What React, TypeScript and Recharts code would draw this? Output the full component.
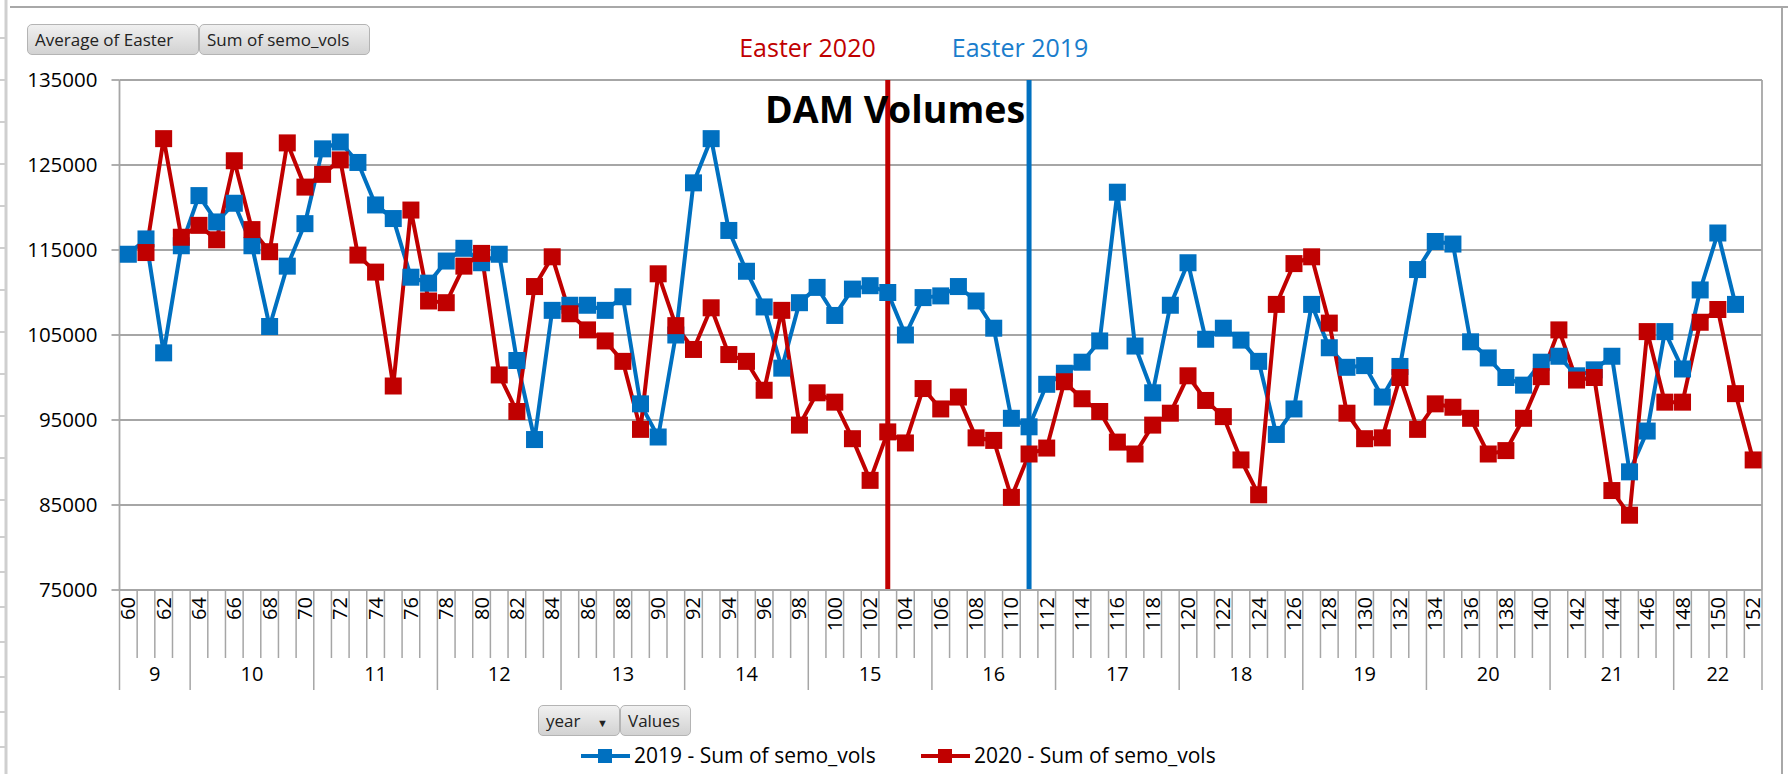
import React from 'react';
import { ComposedChart, Line, XAxis, YAxis, CartesianGrid, ReferenceLine } from 'recharts';

const days = [
  60, 61, 62, 63, 64, 65, 66, 67, 68, 69, 70, 71, 72, 73, 74, 75, 76, 77, 78, 79,
  80, 81, 82, 83, 84, 85, 86, 87, 88, 89, 90, 91, 92, 93, 94, 95, 96, 97, 98, 99,
  100, 101, 102, 103, 104, 105, 106, 107, 108, 109, 110, 111, 112, 113, 114, 115, 116, 117, 118, 119,
  120, 121, 122, 123, 124, 125, 126, 127, 128, 129, 130, 131, 132, 133, 134, 135, 136, 137, 138, 139,
  140, 141, 142, 143, 144, 145, 146, 147, 148, 149, 150, 151, 152,
];

const weekNums = [9, 10, 11, 12, 13, 14, 15, 16, 17, 18, 19, 20, 21, 22];
const weekFirstDay = [60, 64, 71, 78, 85, 92, 99, 106, 113, 120, 127, 134, 141, 148];

const vols2019 = [
  114500, 116300, 102900, 115500, 121400, 118300, 120500, 115500, 106000, 113100,
  118100, 126900, 127700, 125300, 120300, 118700, 111800, 111100, 113700, 115200,
  113500, 114500, 102000, 92700, 107900, 108500, 108500, 107900, 109500, 96900,
  93000, 105000, 122900, 128100, 117300, 112500, 108300, 101100, 108800, 110600,
  107300, 110400, 110800, 110000, 105000, 109400, 109600, 110700, 109000, 105800,
  95200, 94200, 99200, 100500, 101800, 104300, 121800, 103700, 98200, 108500,
  113500, 104500, 105800, 104400, 101900, 93300, 96300, 108600, 103500, 101200,
  101400, 97700, 101300, 112700, 116000, 115700, 104200, 102300, 100000, 99100,
  101800, 102500, 100200, 100900, 102500, 88900, 93700, 105400, 101000, 110300,
  117000, 108600, null,
];

const vols2020 = [
  null, 114700, 128100, 116500, 117900, 116200, 125500, 117400, 114800, 127600,
  122400, 123900, 125600, 114400, 112400, 99000, 119700, 109000, 108800, 113100,
  114600, 100300, 96000, 110700, 114200, 107500, 105600, 104300, 101900, 93900,
  112200, 106100, 103300, 108200, 102700, 101900, 98500, 107900, 94400, 98200,
  97100, 92800, 87900, 93600, 92300, 98700, 96300, 97700, 92900, 92600,
  85900, 91000, 91700, 99500, 97500, 96000, 92400, 91000, 94400, 95800,
  100200, 97300, 95400, 90300, 86200, 108600, 113400, 114200, 106400, 95800,
  92800, 92900, 100000, 93900, 96900, 96500, 95200, 91000, 91400, 95200,
  100100, 105600, 99700, 100000, 86700, 83800, 105400, 97100, 97100, 106500,
  108000, 98100, 90300,
];

const yTicks = [75000, 85000, 95000, 105000, 115000, 125000, 135000];
const rightTicks = [0, 0.1, 0.2, 0.3, 0.4, 0.5, 0.6, 0.7, 0.8, 0.9, 1];
const easter2020Day = 103;
const easter2019Day = 111;

const data = days.map((d, i) => ({ day: d, v2019: vols2019[i], v2020: vols2020[i] }));

const BLUE = '#0070C0';
const RED = '#C00000';
const GRID = '#a6a6a6';
const FONT = '"Open Sans", "Noto Sans", sans-serif';

const W = 1788;
const H = 774;
const LEFT_W = 119.5;
const RIGHT_W = 26;
const SLOT = (W - LEFT_W - RIGHT_W) / days.length;

const squareDot = (color: string) => (p: any) => {
  const { cx, cy, index } = p;
  if (cx == null || cy == null || p.value == null) return <g key={`e${index}`} />;
  return <rect key={`d${index}`} x={cx - 8.5} y={cy - 8.5} width={17} height={17} fill={color} />;
};

// two-level category axis: day numbers (every other one) and week groups
const DayTick = (props: any) => {
  const { x, y, payload } = props;
  const i = payload.index;
  const half = payload.offset > 0 ? payload.offset : SLOT / 2;
  const day = days[i];
  const wk = weekFirstDay.indexOf(day);
  const last = i === days.length - 1;
  let weekLabel = null;
  if (wk >= 0) {
    const next = wk + 1 < weekFirstDay.length ? weekFirstDay[wk + 1] : days[days.length - 1] + 1;
    const len = next - day;
    weekLabel = (
      <text x={x - half + len * half} y={y + 91} textAnchor="middle" fontSize={20} fontFamily={FONT} fill="#000">
        {weekNums[wk]}
      </text>
    );
  }
  return (
    <g>
      <line x1={x - half} x2={x - half} y1={y} y2={y + (wk >= 0 ? 100 : 68)} stroke={GRID} strokeWidth={1.5} />
      {last && <line x1={x + half} x2={x + half} y1={y} y2={y + 100} stroke={GRID} strokeWidth={1.5} />}
      {i % 2 === 0 && (
        <text
          transform={`translate(${x},${y + 7}) rotate(-90)`}
          textAnchor="end"
          dy="0.35em"
          fontSize={20}
          fontFamily={FONT}
          fill="#000"
        >
          {day}
        </text>
      )}
      {weekLabel}
    </g>
  );
};

const easterLabel = (text: string, color: string, dx: number, anchor: string) => (p: any) => {
  const vb = p.viewBox || {};
  return (
    <text x={vb.x + dx} y={57} textAnchor={anchor} fontSize={25} fontFamily={FONT} fill={color}>
      {text}
    </text>
  );
};

const btn: React.CSSProperties = {
  position: 'absolute',
  height: 31,
  boxSizing: 'border-box',
  border: '1px solid #b4b4b4',
  borderRadius: 5,
  background: 'linear-gradient(#f0f0f0, #d2d2d2)',
  fontFamily: FONT,
  fontSize: 17,
  color: '#222',
  lineHeight: '29px',
  paddingLeft: 7,
  whiteSpace: 'nowrap',
};

const rulerMarks = [38, 80, 122, 164, 206, 248, 290, 332, 374, 416, 458, 500, 537, 572, 607, 642, 677, 712, 747];

export default function App() {
  return (
    <div style={{ position: 'fixed', left: 0, top: 0, width: W, height: H, background: '#fff', overflow: 'hidden' }}>
      <ComposedChart width={W} height={H} data={data} margin={{ top: 80, right: 0, bottom: 0, left: 0 }}>
        <CartesianGrid vertical={false} stroke={GRID} strokeWidth={1.8} />
        <XAxis
          dataKey="day"
          scale="band"
          interval={0}
          height={184}
          tickSize={0}
          tickMargin={0}
          tickLine={false}
          axisLine={{ stroke: GRID, strokeWidth: 1.8 }}
          tick={DayTick}
        />
        <YAxis
          domain={[75000, 135000]}
          ticks={yTicks}
          interval={0}
          width={LEFT_W}
          tickSize={8}
          tickMargin={14}
          axisLine={{ stroke: GRID, strokeWidth: 1.8 }}
          tickLine={{ stroke: GRID, strokeWidth: 1.8 }}
          tick={{ fill: '#000', fontSize: 20.5, fontFamily: FONT }}
        />
        <YAxis
          yAxisId="right"
          orientation="right"
          domain={[0, 1]}
          ticks={rightTicks}
          interval={0}
          width={RIGHT_W}
          tick={false}
          tickSize={9}
          axisLine={{ stroke: GRID, strokeWidth: 1.8 }}
          tickLine={{ stroke: GRID, strokeWidth: 1.8 }}
        />
        <Line
          type="linear"
          dataKey="v2019"
          stroke={BLUE}
          strokeWidth={4}
          dot={squareDot(BLUE)}
          activeDot={false}
          isAnimationActive={false}
        />
        <Line
          type="linear"
          dataKey="v2020"
          stroke={RED}
          strokeWidth={4}
          dot={squareDot(RED)}
          activeDot={false}
          isAnimationActive={false}
        />
        <ReferenceLine
          x={easter2020Day}
          stroke={RED}
          strokeWidth={5}
          label={easterLabel('Easter 2020', RED, -12, 'end')}
        />
        <ReferenceLine
          x={easter2019Day}
          stroke={BLUE}
          strokeWidth={5}
          label={easterLabel('Easter 2019', '#1a7dcc', -9, 'middle')}
        />
      </ComposedChart>

      <svg width={W} height={H} style={{ position: 'absolute', left: 0, top: 0, pointerEvents: 'none' }}>
        <line x1={10} x2={W} y1={7} y2={7} stroke="#a8a8a8" strokeWidth={2} />
        <line x1={6} x2={6} y1={0} y2={H} stroke="#cfcfcf" strokeWidth={3} />
        {rulerMarks.map((m) => (
          <line key={m} x1={0} x2={6} y1={m} y2={m} stroke="#cfcfcf" strokeWidth={2} />
        ))}
        <line x1={1782} x2={1782} y1={7} y2={H} stroke="#a8a8a8" strokeWidth={2} />
        <text x={765} y={123} fontSize={37.5} fontWeight={700} fontFamily={FONT} fill="#000">
          DAM Volumes
        </text>
        <line x1={581} x2={630} y1={756} y2={756} stroke={BLUE} strokeWidth={4} />
        <rect x={598} y={749} width={14} height={14} fill={BLUE} />
        <text x={634} y={763} fontSize={21} fontFamily={FONT} fill="#000">
          2019 - Sum of semo_vols
        </text>
        <line x1={921} x2={970} y1={756} y2={756} stroke={RED} strokeWidth={4} />
        <rect x={938} y={749} width={14} height={14} fill={RED} />
        <text x={974} y={763} fontSize={21} fontFamily={FONT} fill="#000">
          2020 - Sum of semo_vols
        </text>
      </svg>

      <div style={{ ...btn, left: 27, top: 24, width: 172 }}>Average of Easter</div>
      <div style={{ ...btn, left: 199, top: 24, width: 171 }}>Sum of semo_vols</div>
      <div style={{ ...btn, left: 538, top: 705, width: 82 }}>
        year <span style={{ fontSize: 11, marginLeft: 12 }}>▼</span>
      </div>
      <div style={{ ...btn, left: 620, top: 705, width: 71 }}>Values</div>
    </div>
  );
}
